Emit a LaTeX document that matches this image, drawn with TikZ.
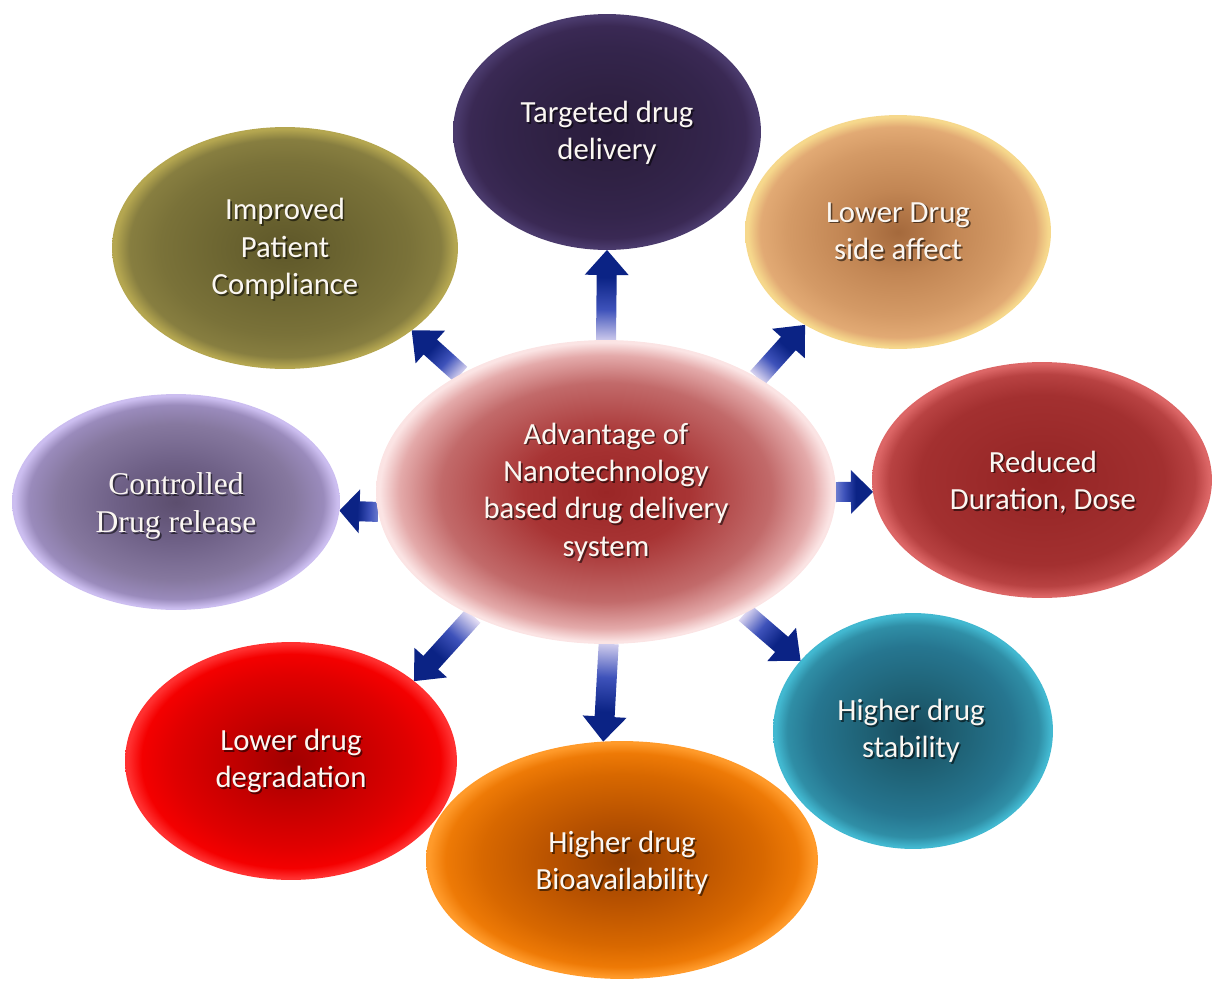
\documentclass[tikz,border=0pt]{standalone}
\usepackage{fontspec}
\setmainfont{Carlito}
\newfontfamily\capserif{Liberation Serif}
\usetikzlibrary{shapes.geometric,calc}

% bubble colours, from the middle (A) out to the rim (E)
\definecolor{tgA}{HTML}{2A1C3C}\definecolor{tgB}{HTML}{2F2143}\definecolor{tgC}{HTML}{34254C}\definecolor{tgD}{HTML}{3A2954}\definecolor{tgE}{HTML}{4A3A6C}
\definecolor{lsA}{HTML}{A4693C}\definecolor{lsB}{HTML}{C28654}\definecolor{lsC}{HTML}{D49A66}\definecolor{lsD}{HTML}{E2AA74}\definecolor{lsE}{HTML}{F6D88C}
\definecolor{rdA}{HTML}{942424}\definecolor{rdB}{HTML}{9B2A2A}\definecolor{rdC}{HTML}{A33030}\definecolor{rdD}{HTML}{B84242}\definecolor{rdE}{HTML}{DC6666}
\definecolor{stA}{HTML}{184C5E}\definecolor{stB}{HTML}{1F6276}\definecolor{stC}{HTML}{267690}\definecolor{stD}{HTML}{2F8EA6}\definecolor{stE}{HTML}{42B8D0}
\definecolor{bioA}{HTML}{984000}\definecolor{bioB}{HTML}{B85200}\definecolor{bioC}{HTML}{D86800}\definecolor{bioD}{HTML}{EE7A06}\definecolor{bioE}{HTML}{FF9A2A}
\definecolor{dgA}{HTML}{A00000}\definecolor{dgB}{HTML}{C20000}\definecolor{dgC}{HTML}{E00000}\definecolor{dgD}{HTML}{F40000}\definecolor{dgE}{HTML}{FF3030}
\definecolor{crA}{HTML}{5C4E6E}\definecolor{crB}{HTML}{6E6086}\definecolor{crC}{HTML}{86789F}\definecolor{crD}{HTML}{9A8BBC}\definecolor{crE}{HTML}{CCBEF0}
\definecolor{ipA}{HTML}{5E5729}\definecolor{ipB}{HTML}{6C6531}\definecolor{ipC}{HTML}{7A7239}\definecolor{ipD}{HTML}{877E40}\definecolor{ipE}{HTML}{B4A650}
\definecolor{ctA}{HTML}{9A2626}\definecolor{ctB}{HTML}{A83434}\definecolor{ctC}{HTML}{C26A6A}\definecolor{ctD}{HTML}{E4AAAA}\definecolor{ctE}{HTML}{FBE4E4}
\definecolor{arrPale}{HTML}{E4DDF4}\definecolor{arrSoft}{HTML}{7A88D4}\definecolor{arrMid}{HTML}{3E52BA}\definecolor{arrDark}{HTML}{0B2385}
\definecolor{capWhite}{HTML}{FBF7F2}

% body shading and soft outer halo for each bubble
% (the path's border sits at 25bp of a radial shading)
\newcommand\bubbleshading[2]{%
  \pgfdeclareradialshading{#1}{\pgfpoint{0bp}{0bp}}{%
    color(0bp)=(#2A); color(9bp)=(#2B); color(18bp)=(#2C);
    color(22.5bp)=(#2D); color(24.6bp)=(#2E); color(50bp)=(#2E)}%
  \pgfdeclareradialshading{#1halo}{\pgfpoint{0bp}{0bp}}{%
    color(0bp)=(#2E); color(23.2bp)=(#2E); color(25bp)=(white); color(50bp)=(white)}}
\bubbleshading{shTarget}{tg}
\bubbleshading{shSide}{ls}
\bubbleshading{shReduced}{rd}
\bubbleshading{shStable}{st}
\bubbleshading{shBio}{bio}
\bubbleshading{shDegrade}{dg}
\bubbleshading{shControl}{cr}
\bubbleshading{shComply}{ip}
\bubbleshading{shCentre}{ct}

% arrow body: navy at the head, fading to pale lavender at the tail
\pgfdeclareverticalshading{arrowfade}{100bp}{%
  color(0bp)=(arrDark); color(40bp)=(arrDark); color(58bp)=(arrMid);
  color(78bp)=(arrPale); color(100bp)=(arrPale)}
% the short side arrows fade much less
\pgfdeclareverticalshading{arrowshort}{100bp}{%
  color(0bp)=(arrDark); color(48bp)=(arrDark); color(64bp)=(arrMid);
  color(78bp)=(arrSoft); color(100bp)=(arrSoft)}
\def\arrowshade{arrowfade}

\pgfdeclarelayer{back}
\pgfsetlayers{back,main}

\tikzset{
  bubble/.style 2 args={ellipse, inner sep=0pt, outer sep=0pt,
    minimum width=#1*0.04cm, minimum height=#2*0.04cm, shade},
  captext/.style={text=capWhite, align=center, inner sep=0pt,
    font=\fontsize{17.5}{21.3}\selectfont},
  capshadow/.style={captext, text=black, text opacity=0.55},
}

% bubble with halo: #1 name, #2 position, #3 half width, #4 half height, #5 shading
\newcommand\bubble[5]{%
  \begin{pgfonlayer}{back}
    \node[bubble={#3+6}{#4+6}, shading=#5halo] (#1-halo) at (#2) {};
  \end{pgfonlayer}
  \node[bubble={#3}{#4}, shading=#5] (#1) at (#2) {};}

% caption with a dark drop shadow: #1 extra style, #2 bubble, #3 offset, #4 text
\newcommand\glowtext[4][]{%
  \node[capshadow,#1] (#2-sh) at ($(#2.center)+(#3)+(1.7,1.9)$) {#4};
  \node[captext,#1] (#2-tx) at ($(#2.center)+(#3)$) {#4};}

% block arrow: #1 head length, #2 name, #3 tail, #4 tip
\newcommand\blockarrow[4][0.5cm]{%
  \coordinate (#2-t) at (#3);
  \coordinate (#2-h) at (#4);
  \coordinate (#2-b) at ($(#2-h)!#1!(#2-t)$);
  \pgfmathanglebetweenpoints{\pgfpointanchor{#2-t}{center}}{\pgfpointanchor{#2-h}{center}}%
  \pgfmathsetmacro\arrang{mod(\pgfmathresult+90,360)}%
  \shade[shading=\arrowshade, shading angle=\arrang]
    ($(#2-t)!0.2cm!90:(#2-h)$) -- ($(#2-b)!0.2cm!-90:(#2-t)$)
    -- ($(#2-b)!0.44cm!-90:(#2-t)$) -- (#2-h)
    -- ($(#2-b)!0.44cm!90:(#2-t)$) -- ($(#2-b)!0.2cm!90:(#2-t)$)
    -- ($(#2-t)!0.2cm!-90:(#2-h)$) -- cycle;}

\begin{document}
\begin{tikzpicture}[x=0.02cm, y=-0.02cm]
\useasboundingbox (0,0) rectangle (1215,981);

% outer bubbles
\bubble{tgt}{607,132}{154}{118}{shTarget}
\bubble{side}{898,232}{153}{117}{shSide}
\bubble{red}{1042,480}{170}{118}{shReduced}
\bubble{stab}{913,731}{140}{118}{shStable}
\bubble{bio}{622,860}{196}{119}{shBio}
\bubble{deg}{291,761}{166}{119}{shDegrade}
\bubble{ctl}{176,502}{164}{108}{shControl}
\bubble{cmp}{285,248}{173}{121}{shComply}

% central bubble
\bubble{ctr}{606,492}{230}{152}{shCentre}

% arrows from the centre to each benefit
\begin{pgfonlayer}{back}
\blockarrow{aT}{ctr.90}{tgt.270}
\blockarrow{aS}{ctr.37}{side.225}
\blockarrow{aB}{ctr.-41}{stab.148}
\blockarrow{aV}{ctr.271}{bio.99}
\blockarrow{aD}{ctr.223}{deg.33}
\blockarrow{aP}{ctr.141}{cmp.-33}
{\def\arrowshade{arrowshort}%
 \blockarrow[0.44cm]{aR}{ctr.0}{red.184}
 \blockarrow[0.4cm]{aC}{ctr.185}{ctl.-3}}
\end{pgfonlayer}

% captions
\glowtext{ctr}{0,0}{Advantage of\\Nanotechnology\\based drug delivery\\system}
\glowtext{tgt}{0,1}{Targeted drug\\delivery}
\glowtext{side}{0,-1}{Lower Drug\\side affect}
\glowtext{red}{1,2}{Reduced\\Duration, Dose}
\glowtext{stab}{-2,0}{Higher drug\\stability}
\glowtext{bio}{0,3}{Higher drug\\Bioavailability}
\glowtext{deg}{0,0}{Lower drug\\degradation}
\glowtext[font=\capserif\fontsize{18}{21.6}\selectfont]{ctl}{0,4}{Controlled\\Drug release}
\glowtext{cmp}{0,1}{Improved\\Patient\\Compliance}
\end{tikzpicture}
\end{document}
